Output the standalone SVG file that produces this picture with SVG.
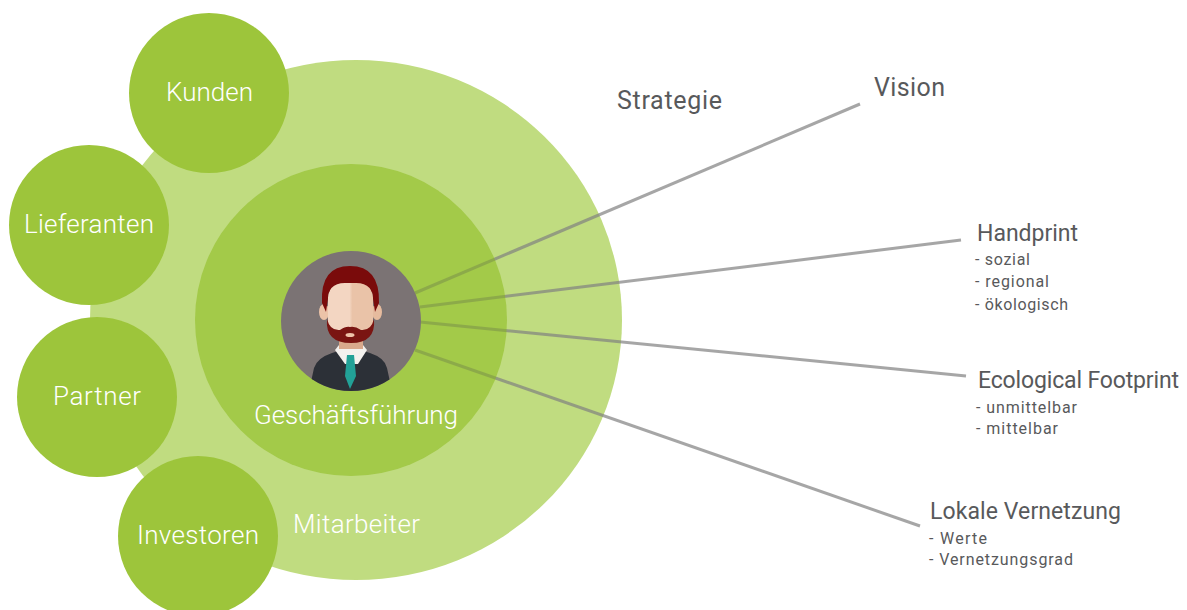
<svg xmlns="http://www.w3.org/2000/svg" width="1187" height="610" viewBox="0 0 1187 610">
<style>
text{font-family:"Roboto","Liberation Sans",sans-serif;font-weight:400}
.w{fill:#fff;font-size:26px;font-weight:300}
.h{fill:#58595b;font-size:23px}
.b{fill:#58595b;font-size:25px}
.s{fill:#58595b;font-size:16px}
.c{fill:#9dc53b}
.l{fill:none;stroke:#808080;stroke-opacity:.7;stroke-width:3}
</style>
<defs>
<clipPath id="av"><circle cx="351" cy="321" r="70"/></clipPath>
<linearGradient id="skin" x1="0" x2="1" y1="0" y2="0"><stop offset=".48" stop-color="#f3d6c2"/><stop offset=".54" stop-color="#eac3a8"/></linearGradient>
</defs>
<rect width="1187" height="610" fill="#fff"/>
<g id="mitarbeiter"><ellipse cx="356" cy="320" rx="266" ry="260" fill="#c0dc80"/><text class="w" x="293" y="533" textLength="127">Mitarbeiter</text></g>
<g id="connectors" class="l"><path d="M415 293L860 104"/><path d="M420 307L961 240"/><path d="M420 322L966 376"/><path d="M415 350L920 526"/></g>
<g id="geschaeftsfuehrung-ring"><circle cx="351" cy="320" r="156" fill="#86b812" fill-opacity=".5"/></g>
<g id="kunden"><circle class="c" cx="209" cy="93" r="80"/><text class="w" x="166" y="101" textLength="87">Kunden</text></g>
<g id="lieferanten"><circle class="c" cx="89" cy="225" r="80"/><text class="w" x="24" y="233" textLength="130">Lieferanten</text></g>
<g id="partner"><circle class="c" cx="97" cy="397" r="80"/><text class="w" x="53" y="405" textLength="88">Partner</text></g>
<g id="investoren"><circle class="c" cx="198" cy="536" r="80"/><text class="w" x="137" y="544" textLength="122">Investoren</text></g>
<g id="avatar">
<circle cx="351" cy="321" r="70" fill="#7b7374"/>
<g clip-path="url(#av)">
<path d="M309 391L314 368Q317 358 332 353L345 349H357L370 353Q385 358 387 368L392 391Z" fill="#2c3037"/>
<path d="M335 350L339 345H363L367 350L358 364H345Z" fill="#f3f1ee"/>
<rect x="339" y="338" width="24" height="11" fill="#d9a98c"/>
<path d="M347 355H354L356 376L350 389L345 376Z" fill="#22a197"/>
<ellipse cx="324" cy="312" rx="5" ry="8" fill="#ecc3a8"/><ellipse cx="377" cy="312" rx="5" ry="8" fill="#e6bb9e"/>
<path d="M322 303Q320 266 350 266Q380 266 379 303L375 312L372 292H329L326 312Z" fill="#7a0b0b"/>
<path d="M328 302Q327 283 345 283H356Q374 283 373 302V322Q373 340 350 342Q328 340 328 322Z" fill="url(#skin)"/>
<path d="M327 319Q330 331 340 330Q346 326 350 327Q355 326 361 330Q371 331 374 319Q376 343 351 343Q325 343 327 319Z" fill="#7a1512"/>
<ellipse cx="350" cy="335" rx="4.500" ry="2" fill="#eec4aa"/>
</g>
</g>
<g id="ceo-label"><text class="w" x="254" y="424" textLength="204">Geschäftsführung</text></g>
<g id="strategie"><text class="b" x="617" y="109" textLength="105">Strategie</text></g>
<g id="vision"><text class="b" x="874" y="96" textLength="71">Vision</text></g>
<g id="handprint"><text class="h" x="977" y="241" textLength="101">Handprint</text><text class="s" x="975" y="265" textLength="55">- sozial</text><text class="s" x="975" y="287" textLength="74">- regional</text><text class="s" x="975" y="310" textLength="93">- ökologisch</text></g>
<g id="footprint"><text class="h" x="978" y="388" textLength="201">Ecological Footprint</text><text class="s" x="976" y="413" textLength="101">- unmittelbar</text><text class="s" x="976" y="434" textLength="82">- mittelbar</text></g>
<g id="vernetzung"><text class="h" x="930" y="519" textLength="191">Lokale Vernetzung</text><text class="s" x="929" y="544" textLength="58">- Werte</text><text class="s" x="929" y="565" textLength="144">- Vernetzungsgrad</text></g>
</svg>
